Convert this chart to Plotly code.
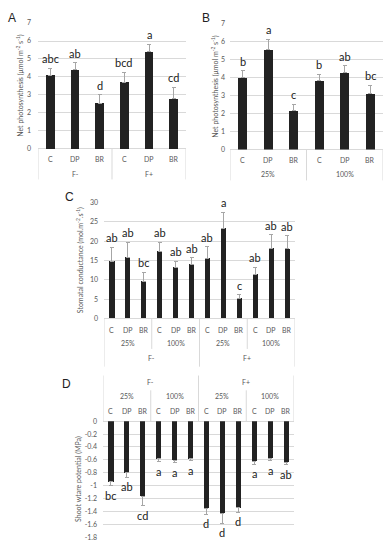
import plotly.graph_objects as go

W, H = 391, 550

# ---------------- data ----------------
cats = ["C", "DP", "BR"]
a_groups = ["F-", "F+"]
a_vals = [4.1, 4.4, 2.55, 3.7, 5.4, 2.8]
a_err = [0.38, 0.38, 0.45, 0.55, 0.42, 0.62]
a_letters = ["abc", "ab", "d", "bcd", "a", "cd"]

b_groups = ["25%", "100%"]
b_vals = [4.0, 5.55, 2.17, 3.82, 4.28, 3.1]
b_err = [0.38, 0.6, 0.35, 0.38, 0.37, 0.47]
b_letters = ["b", "a", "c", "b", "ab", "bc"]

cd_lvl2 = ["25%", "100%", "25%", "100%"]
cd_lvl3 = ["F-", "F+"]
c_vals = [14.8, 15.8, 9.6, 17.4, 13.3, 14.0, 15.5, 23.2, 5.25, 11.4, 18.2, 18.0]
c_err = [3.6, 3.9, 2.4, 2.3, 1.5, 1.7, 3.1, 4.2, 0.95, 1.9, 3.4, 3.4]
c_letters = ["ab", "ab", "bc", "ab", "ab", "ab", "ab", "a", "c", "ab", "ab", "ab"]

d_vals = [-0.94, -0.80, -1.16, -0.585, -0.61, -0.585, -1.35, -1.43, -1.34, -0.625, -0.575, -0.64]
d_err = [0.06, 0.065, 0.15, 0.04, 0.03, 0.03, 0.09, 0.15, 0.07, 0.04, 0.035, 0.035]
d_letters = ["bc", "ab", "cd", "a", "a", "a", "d", "d", "d", "a", "a", "ab"]
d_ticks = [0, -0.2, -0.4, -0.6, -0.8, -1, -1.2, -1.4, -1.6, -1.8]
d_ticktext = ["0", "-0.2", "-0.4", "-0.6", "-0.8", "-1", "-1.2", "-1.4", "-1.6", "-1.8"]

# ---------------- style ----------------
BAR = "#222222"
ERR = "#a6a6a6"
GRID = "#d9d9d9"
TXT = "#595959"
FONT = "Lato"


def px(x):
    return x / W


def py(y):
    return 1 - y / H


fig = go.Figure()
annotations = []
shapes = []


def add_panel(n, vals, err, letters, width, negative=False):
    xs = list(range(len(vals)))
    xa = "x" if n == 1 else f"x{n}"
    ya = "y" if n == 1 else f"y{n}"
    if negative:
        ey = dict(type="data", symmetric=False, array=[0] * len(vals), arrayminus=err,
                  color=ERR, thickness=1, width=2)
    else:
        ey = dict(type="data", symmetric=False, array=err, arrayminus=[0] * len(vals),
                  color=ERR, thickness=1, width=2)
    fig.add_trace(go.Bar(x=xs, y=vals, width=width, marker=dict(color=BAR, line=dict(width=0)),
                         error_y=ey, xaxis=xa, yaxis=ya, showlegend=False, hoverinfo="skip"))
    for i, (v, e, l) in enumerate(zip(vals, err, letters)):
        if negative:
            annotations.append(dict(x=i, y=v - e, xref=xa, yref=ya, text=l, showarrow=False,
                                    yanchor="top", yshift=-1, font=dict(family=FONT, size=11, color="#222")))
        else:
            annotations.append(dict(x=i, y=v + e, xref=xa, yref=ya, text=l, showarrow=False,
                                    yanchor="bottom", yshift=1, font=dict(family=FONT, size=11, color="#222")))


def vline(xa, x, y0, y1):
    shapes.append(dict(type="line", xref=xa, yref="paper", x0=x, x1=x, y0=py(y0), y1=py(y1),
                       line=dict(color=GRID, width=1)))


def label(xa, x, y, text, size=7):
    annotations.append(dict(x=x, y=py(y), xref=xa, yref="paper", text=text, showarrow=False,
                            xanchor="center", yanchor="middle", font=dict(family=FONT, size=size, color=TXT)))


add_panel(1, a_vals, a_err, a_letters, 0.34)
add_panel(2, b_vals, b_err, b_letters, 0.34)
add_panel(3, c_vals, c_err, c_letters, 0.32)
add_panel(4, d_vals, d_err, d_letters, 0.32, negative=True)

# category rows panel A / B
for xa, ycat, ygrp, groups, ybot, ytop in [("x", 156, 171, a_groups, 177, 146),
                                           ("x2", 157, 172, b_groups, 178, 147)]:
    for g in range(2):
        for j, c in enumerate(cats):
            label(xa, g * 3 + j, ycat, c)
        label(xa, g * 3 + 1, ygrp, groups[g])
    for xv in [-0.5, 2.5, 5.5]:
        vline(xa, xv, ytop, ybot)

# panel C rows (below)
for k in range(4):
    for j, c in enumerate(cats):
        label("x3", k * 3 + j, 330, c)
    label("x3", k * 3 + 1, 342.5, cd_lvl2[k])
for g in range(2):
    label("x3", g * 6 + 2.5, 358, cd_lvl3[g])
for xv in [2.5, 8.5]:
    vline("x3", xv, 318.3, 349)
for xv in [-0.5, 5.5, 11.5]:
    vline("x3", xv, 318.3, 367)

# panel D rows (above)
for k in range(4):
    for j, c in enumerate(cats):
        label("x4", k * 3 + j, 412, c)
    label("x4", k * 3 + 1, 397, cd_lvl2[k])
for g in range(2):
    label("x4", g * 6 + 2.5, 383, cd_lvl3[g])
for xv in [2.5, 8.5]:
    vline("x4", xv, 422.3, 391)
for xv in [-0.5, 5.5, 11.5]:
    vline("x4", xv, 422.3, 376)

# panel letters
for t, x, y in [("A", 12, 13), ("B", 206, 13), ("C", 69, 195), ("D", 66, 385)]:
    annotations.append(dict(x=px(x), y=py(y), xref="paper", yref="paper", text=t, showarrow=False,
                            xanchor="center", yanchor="middle",
                            font=dict(family="Liberation Sans", size=12, color="#222")))

# axis titles
for t, x, y in [("Net photosynthesis (μmol m<sup>-2</sup> s<sup>-1</sup>)", 20, 82),
                ("Net photosynthesis (μmol m<sup>-2</sup> s<sup>-1</sup>)", 215, 83),
                ("Stomatal conductance (mol.m<sup>-2</sup>.s<sup>-1</sup>)", 80, 259),
                ("Shoot wtare potential (MPa)", 78, 481)]:
    annotations.append(dict(x=px(x), y=py(y), xref="paper", yref="paper", text=t, showarrow=False,
                            textangle=-90, xanchor="center", yanchor="middle",
                            font=dict(family=FONT, size=7, color=TXT)))


def xaxis(x0, x1, n):
    return dict(domain=[px(x0), px(x1)], range=[-0.5, n - 0.5], showticklabels=False,
                showgrid=False, zeroline=False, showline=False, ticks="", fixedrange=True)


def yaxis(y_top, y_bot, rng, dtick, anchor, standoff, **kw):
    d = dict(domain=[py(y_bot), py(y_top)], range=rng, dtick=dtick, showgrid=True, gridcolor=GRID,
             gridwidth=1, zeroline=True, zerolinecolor=GRID, zerolinewidth=1, showline=False,
             ticks="", tickfont=dict(family=FONT, size=7, color=TXT), anchor=anchor,
             ticklabelstandoff=standoff, fixedrange=True)
    d.update(kw)
    return d


fig.update_layout(
    width=W, height=H, margin=dict(l=0, r=0, t=0, b=0),
    paper_bgcolor="white", plot_bgcolor="white", bargap=0,
    xaxis=dict(xaxis(38, 186, 6), anchor="y"),
    yaxis=yaxis(18.3, 146, [0, 7], 1, "x", 6),
    xaxis2=dict(xaxis(230, 383, 6), anchor="y2"),
    yaxis2=yaxis(19, 146.7, [0, 7], 1, "x2", 4),
    xaxis3=dict(xaxis(104, 295, 12), anchor="y3"),
    yaxis3=yaxis(200.3, 318.3, [0, 30], 5, "x3", 5),
    xaxis4=dict(xaxis(103, 294, 12), anchor="y4"),
    yaxis4=yaxis(422.3, 540.3, [-1.8, 0], None, "x4", 5, tickvals=d_ticks, ticktext=d_ticktext),
    annotations=annotations, shapes=shapes,
)

fig.write_html("out.html", config={"displayModeBar": False},
               post_script="document.body.style.margin='0';document.body.style.padding='0';")
